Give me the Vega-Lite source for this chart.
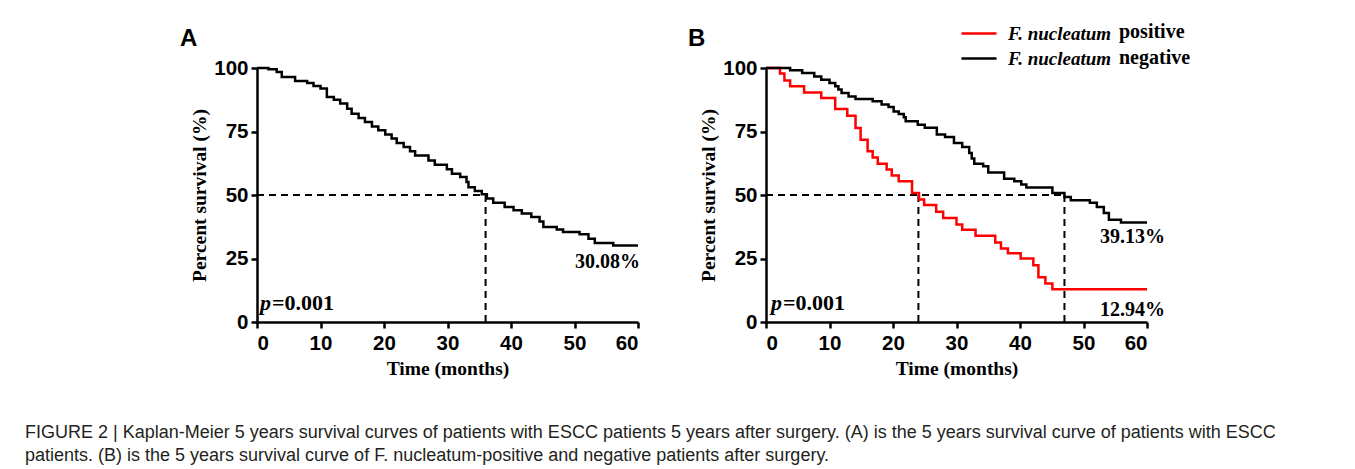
{
  "$schema": "https://vega.github.io/schema/vega-lite/v6.json",
  "background": "white",
  "padding": {"left": 25, "top": 19, "right": 10, "bottom": 5},
  "title": {
    "text": ["FIGURE 2 | Kaplan-Meier 5 years survival curves of patients with ESCC patients 5 years after surgery. (A) is the 5 years survival curve of patients with ESCC", "patients. (B) is the 5 years survival curve of F. nucleatum-positive and negative patients after surgery."],
    "orient": "bottom", "anchor": "start", "frame": "bounds", "dx": -155, "offset": 46,
    "font": "Liberation Sans", "fontSize": 18, "fontWeight": "normal", "color": "#231f20", "lineHeight": 23
  },
  "datasets": {
    "survA": [
      {"t": 0, "s": 100}, {"t": 1.8, "s": 99.5}, {"t": 3.1, "s": 98.4}, {"t": 3.9, "s": 96.5}, {"t": 6.0, "s": 94.9},
      {"t": 7.9, "s": 94.1}, {"t": 8.9, "s": 92.9}, {"t": 10.0, "s": 91.9}, {"t": 11.0, "s": 88.6}, {"t": 12.1, "s": 87.5},
      {"t": 13.1, "s": 86.0}, {"t": 14.2, "s": 84.0}, {"t": 14.9, "s": 82.0}, {"t": 16.0, "s": 80.3}, {"t": 17.0, "s": 78.7},
      {"t": 18.1, "s": 77.0}, {"t": 19.1, "s": 75.5}, {"t": 20.2, "s": 73.8}, {"t": 21.2, "s": 72.2}, {"t": 22.0, "s": 70.5},
      {"t": 23.1, "s": 68.9}, {"t": 24.1, "s": 67.2}, {"t": 24.9, "s": 65.6}, {"t": 27.0, "s": 63.6}, {"t": 28.0, "s": 61.9},
      {"t": 29.9, "s": 60.1}, {"t": 30.7, "s": 58.4}, {"t": 32.0, "s": 57.1}, {"t": 33.0, "s": 55.1}, {"t": 33.3, "s": 53.1},
      {"t": 34.3, "s": 51.6}, {"t": 35.4, "s": 50.3}, {"t": 36.2, "s": 48.6}, {"t": 37.2, "s": 46.9}, {"t": 39.0, "s": 45.3},
      {"t": 40.4, "s": 44.0}, {"t": 41.7, "s": 42.7}, {"t": 43.2, "s": 41.3}, {"t": 44.5, "s": 39.6}, {"t": 45.1, "s": 37.4},
      {"t": 47.2, "s": 36.4}, {"t": 48.2, "s": 35.4}, {"t": 50.8, "s": 34.5}, {"t": 52.2, "s": 32.8}, {"t": 53.2, "s": 31.1},
      {"t": 56.1, "s": 30.08}, {"t": 60, "s": 30.08}
    ],
    "survB": [
      {"t": 0, "s": 100, "group": "positive"}, {"t": 2.2, "s": 97.8, "group": "positive"}, {"t": 2.9, "s": 95.1, "group": "positive"},
      {"t": 3.8, "s": 92.8, "group": "positive"}, {"t": 6.0, "s": 90.4, "group": "positive"}, {"t": 8.7, "s": 88.2, "group": "positive"},
      {"t": 10.9, "s": 83.9, "group": "positive"}, {"t": 12.8, "s": 81.2, "group": "positive"}, {"t": 14.1, "s": 76.4, "group": "positive"},
      {"t": 14.9, "s": 71.8, "group": "positive"}, {"t": 16.0, "s": 67.2, "group": "positive"}, {"t": 16.8, "s": 64.8, "group": "positive"},
      {"t": 17.6, "s": 62.3, "group": "positive"}, {"t": 19.0, "s": 60.0, "group": "positive"}, {"t": 19.8, "s": 57.7, "group": "positive"},
      {"t": 20.9, "s": 55.4, "group": "positive"}, {"t": 23.0, "s": 50.8, "group": "positive"}, {"t": 24.1, "s": 48.2, "group": "positive"},
      {"t": 24.9, "s": 46.1, "group": "positive"}, {"t": 26.8, "s": 43.4, "group": "positive"}, {"t": 27.9, "s": 40.9, "group": "positive"},
      {"t": 30.0, "s": 38.4, "group": "positive"}, {"t": 30.9, "s": 36.3, "group": "positive"}, {"t": 33.0, "s": 34.0, "group": "positive"},
      {"t": 36.1, "s": 31.3, "group": "positive"}, {"t": 37.0, "s": 28.9, "group": "positive"}, {"t": 38.1, "s": 27.1, "group": "positive"},
      {"t": 40.1, "s": 25.0, "group": "positive"}, {"t": 42.1, "s": 22.3, "group": "positive"}, {"t": 42.9, "s": 17.6, "group": "positive"},
      {"t": 44.0, "s": 15.2, "group": "positive"}, {"t": 45.1, "s": 12.94, "group": "positive"}, {"t": 60, "s": 12.94, "group": "positive"},
      {"t": 0, "s": 100, "group": "negative"}, {"t": 3.8, "s": 99.1, "group": "negative"}, {"t": 5.7, "s": 98.0, "group": "negative"},
      {"t": 7.6, "s": 96.7, "group": "negative"}, {"t": 8.7, "s": 95.4, "group": "negative"}, {"t": 10.0, "s": 94.1, "group": "negative"},
      {"t": 10.9, "s": 92.8, "group": "negative"}, {"t": 11.4, "s": 91.5, "group": "negative"}, {"t": 11.9, "s": 90.2, "group": "negative"},
      {"t": 13.0, "s": 88.8, "group": "negative"}, {"t": 14.1, "s": 87.8, "group": "negative"}, {"t": 16.8, "s": 86.9, "group": "negative"},
      {"t": 18.2, "s": 85.6, "group": "negative"}, {"t": 19.3, "s": 84.6, "group": "negative"}, {"t": 20.1, "s": 82.9, "group": "negative"},
      {"t": 20.9, "s": 81.9, "group": "negative"}, {"t": 21.7, "s": 80.6, "group": "negative"}, {"t": 22.0, "s": 79.0, "group": "negative"},
      {"t": 23.9, "s": 77.7, "group": "negative"}, {"t": 25.0, "s": 76.5, "group": "negative"}, {"t": 26.9, "s": 73.8, "group": "negative"},
      {"t": 28.2, "s": 72.8, "group": "negative"}, {"t": 29.6, "s": 70.5, "group": "negative"}, {"t": 30.9, "s": 68.9, "group": "negative"},
      {"t": 32.0, "s": 66.5, "group": "negative"}, {"t": 32.4, "s": 64.4, "group": "negative"}, {"t": 32.8, "s": 62.3, "group": "negative"},
      {"t": 34.2, "s": 61.3, "group": "negative"}, {"t": 35.0, "s": 58.9, "group": "negative"}, {"t": 37.5, "s": 56.4, "group": "negative"},
      {"t": 39.1, "s": 55.4, "group": "negative"}, {"t": 40.2, "s": 54.1, "group": "negative"}, {"t": 41.0, "s": 53.0, "group": "negative"},
      {"t": 45.1, "s": 50.8, "group": "negative"}, {"t": 47.0, "s": 49.2, "group": "negative"}, {"t": 48.0, "s": 47.9, "group": "negative"},
      {"t": 51.0, "s": 46.9, "group": "negative"}, {"t": 52.1, "s": 45.3, "group": "negative"}, {"t": 53.2, "s": 42.9, "group": "negative"},
      {"t": 54.0, "s": 40.3, "group": "negative"}, {"t": 55.9, "s": 39.13, "group": "negative"}, {"t": 60, "s": 39.13, "group": "negative"}
    ],
    "medA": [{"t": 0, "t2": 36, "s": 50, "s2": 50}, {"t": 36, "t2": 36, "s": 50, "s2": 0}],
    "medB": [{"t": 0, "t2": 47, "s": 50, "s2": 50}, {"t": 24, "t2": 24, "s": 50, "s2": 0}, {"t": 47, "t2": 47, "s": 50, "s2": 0}],
    "endA": [{"t": 60, "s": 30.08, "label": "30.08%"}],
    "endB": [{"t": 60, "s": 39.13, "label": "39.13%"}, {"t": 60, "s": 12.94, "label": "12.94%"}],
    "pval": [{"t": 0, "s": 0, "p": "p", "rest": "=0.001"}]
  },
  "hconcat": [
    {
      "width": 381, "height": 254,
      "title": {"text": "A", "anchor": "start", "frame": "group", "dx": -77, "offset": 7, "font": "Liberation Sans", "fontSize": 24, "fontWeight": "bold", "color": "black"},
      "encoding": {
        "x": {"field": "t", "type": "quantitative", "scale": {"domain": [0, 60], "nice": false, "zero": false}, "title": "Time (months)",
              "axis": {"values": [0, 10, 20, 30, 40, 50, 60], "labelPadding": 5, "titlePadding": 6}},
        "y": {"field": "s", "type": "quantitative", "scale": {"domain": [0, 100], "nice": false}, "title": "Percent survival (%)",
              "axis": {"values": [0, 25, 50, 75, 100], "labelPadding": 3, "titlePadding": 4}}
      },
      "layer": [
        {"data": {"name": "medA"}, "mark": {"type": "rule", "strokeDash": [7, 5], "strokeWidth": 2, "color": "black"},
         "encoding": {"x2": {"field": "t2"}, "y2": {"field": "s2"}}},
        {"data": {"name": "survA"}, "mark": {"type": "line", "interpolate": "step-after", "color": "black", "strokeWidth": 2.5}, "encoding": {}},
        {"data": {"name": "endA"}, "mark": {"type": "text", "font": "Liberation Serif", "fontWeight": "bold", "fontSize": 20, "align": "right", "baseline": "middle", "dx": 2, "dy": 16, "color": "black"},
         "encoding": {"text": {"field": "label"}}},
        {"data": {"name": "pval"}, "mark": {"type": "text", "font": "Liberation Serif", "fontWeight": "bold", "fontStyle": "italic", "fontSize": 22, "align": "left", "baseline": "alphabetic", "dx": 3, "dy": -12, "color": "black"},
         "encoding": {"text": {"field": "p"}}},
        {"data": {"name": "pval"}, "mark": {"type": "text", "font": "Liberation Serif", "fontWeight": "bold", "fontSize": 22, "align": "left", "baseline": "alphabetic", "dx": 15, "dy": -12, "color": "black"},
         "encoding": {"text": {"field": "rest"}}}
      ]
    },
    {
      "width": 381, "height": 254,
      "title": {"text": "B", "anchor": "start", "frame": "group", "dx": -78, "offset": 7, "font": "Liberation Sans", "fontSize": 24, "fontWeight": "bold", "color": "black"},
      "encoding": {
        "x": {"field": "t", "type": "quantitative", "scale": {"domain": [0, 60], "nice": false, "zero": false}, "title": "Time (months)",
              "axis": {"values": [0, 10, 20, 30, 40, 50, 60], "labelPadding": 5, "titlePadding": 6}},
        "y": {"field": "s", "type": "quantitative", "scale": {"domain": [0, 100], "nice": false}, "title": "Percent survival (%)",
              "axis": {"values": [0, 25, 50, 75, 100], "labelPadding": 3, "titlePadding": 4}}
      },
      "layer": [
        {"data": {"name": "medB"}, "mark": {"type": "rule", "strokeDash": [7, 5], "strokeWidth": 2, "color": "black"},
         "encoding": {"x2": {"field": "t2"}, "y2": {"field": "s2"}}},
        {"data": {"name": "survB"}, "mark": {"type": "line", "interpolate": "step-after", "strokeWidth": 2.5},
         "encoding": {
           "color": {"field": "group", "type": "nominal", "sort": ["positive", "negative"], "scale": {"range": ["#ff0000", "#000000"]},
                     "legend": {"orient": "none", "legendX": 707.5, "legendY": -49, "title": null, "padding": 0, "rowPadding": 0,
                                "symbolType": "M-1.35,0L1.35,0", "symbolSize": 676, "symbolStrokeWidth": 2.5, "labelOffset": 14.5,
                                "labelExpr": "'F. nucleatum'", "labelFont": "Liberation Serif", "labelFontStyle": "italic", "labelFontWeight": "bold", "labelFontSize": 19, "labelColor": "black"}},
           "opacity": {"field": "group", "type": "nominal", "scale": {"domain": ["positive", "negative"], "range": [1, 1]},
                       "legend": {"orient": "none", "legendX": 842, "legendY": -46, "title": null, "padding": 0, "rowPadding": 6,
                                  "symbolSize": 0, "symbolStrokeWidth": 0, "symbolOpacity": 0, "labelOffset": 0,
                                  "labelFont": "Liberation Serif", "labelFontWeight": "bold", "labelFontSize": 20, "labelColor": "black"}}
         }},
        {"data": {"name": "endB"}, "transform": [{"filter": "datum.label == '39.13%'"}], "mark": {"type": "text", "font": "Liberation Serif", "fontWeight": "bold", "fontSize": 20, "align": "right", "baseline": "middle", "dx": 18, "dy": 14, "color": "black"},
         "encoding": {"text": {"field": "label"}}},
        {"data": {"name": "endB"}, "transform": [{"filter": "datum.label == '12.94%'"}], "mark": {"type": "text", "font": "Liberation Serif", "fontWeight": "bold", "fontSize": 20, "align": "right", "baseline": "middle", "dx": 18, "dy": 20.5, "color": "black"},
         "encoding": {"text": {"field": "label"}}},
        {"data": {"name": "pval"}, "mark": {"type": "text", "font": "Liberation Serif", "fontWeight": "bold", "fontStyle": "italic", "fontSize": 22, "align": "left", "baseline": "alphabetic", "dx": 5, "dy": -12, "color": "black"},
         "encoding": {"text": {"field": "p"}}},
        {"data": {"name": "pval"}, "mark": {"type": "text", "font": "Liberation Serif", "fontWeight": "bold", "fontSize": 22, "align": "left", "baseline": "alphabetic", "dx": 17, "dy": -12, "color": "black"},
         "encoding": {"text": {"field": "rest"}}}
      ]
    }
  ],
  "spacing": 128,
  "bounds": "flush",
  "config": {
    "view": {"stroke": null},
    "axis": {"grid": false, "domainColor": "black", "domainWidth": 2.5, "tickColor": "black", "tickWidth": 2.5, "tickSize": 6,
             "labelFont": "Liberation Sans", "labelFontWeight": "bold", "labelFontSize": 20.5, "labelColor": "black",
             "titleFont": "Liberation Serif", "titleFontWeight": "bold", "titleFontSize": 19.5, "titleColor": "black"}
  }
}
